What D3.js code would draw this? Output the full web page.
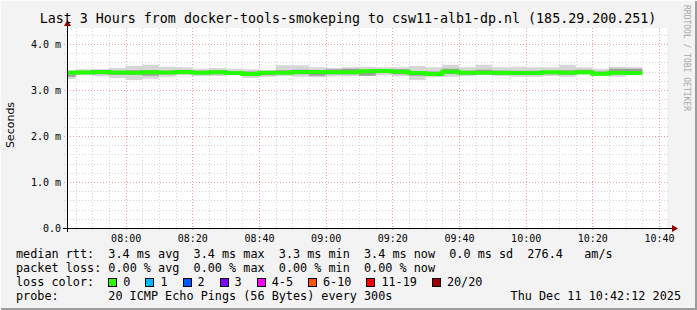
<!DOCTYPE html>
<html>
<head>
<meta charset="utf-8">
<script src="https://cdn.jsdelivr.net/npm/d3@7"></script>
<style>
  body { margin: 0; background: #f3f3f3; }
  svg text { white-space: pre; }
</style>
</head>
<body>
<div id="chart"></div>
<script>
// smokeping latency graph, 3 hours, 5 minute steps

const width = 697;
const height = 310;

// step start times (UTC) of every 5 minute sample, first one is partly off the canvas
const stepStart = '2025-12-11T07:40:00Z';
const stepCount = 35;

// median rtt per step (ms)
const medianMs = [3.374, 3.380, 3.391, 3.380, 3.376, 3.385, 3.380, 3.391, 3.376, 3.385,
  3.370, 3.348, 3.376, 3.376, 3.391, 3.391, 3.385, 3.385, 3.407, 3.413,
  3.398, 3.370, 3.348, 3.398, 3.376, 3.376, 3.376, 3.370, 3.370, 3.385,
  3.376, 3.385, 3.354, 3.376, 3.370];

// slowest and fastest ping per step (ms)
const maxPingMs = [3.435, 3.450, 3.457, 3.478, 3.522, 3.550, 3.507, 3.493, 3.463, 3.478,
  3.463, 3.450, 3.435, 3.537, 3.537, 3.493, 3.478, 3.493, 3.507, 3.493,
  3.493, 3.522, 3.493, 3.550, 3.493, 3.550, 3.493, 3.507, 3.493, 3.493,
  3.550, 3.493, 3.463, 3.507, 3.493];
const minPingMs = [3.239, 3.320, 3.304, 3.261, 3.217, 3.246, 3.289, 3.320, 3.304, 3.304,
  3.320, 3.261, 3.289, 3.304, 3.289, 3.276, 3.304, 3.304, 3.304, 3.320,
  3.304, 3.217, 3.276, 3.289, 3.304, 3.320, 3.304, 3.289, 3.289, 3.304,
  3.289, 3.333, 3.304, 3.289, 3.320];

// inner smoke (middle pings) per step (ms)
const upperPingMs = [3.41, 3.42, 3.43, 3.42, 3.43, 3.43, 3.42, 3.43, 3.42, 3.43,
  3.41, 3.40, 3.41, 3.43, 3.44, 3.43, 3.45, 3.46, 3.44, 3.45,
  3.45, 3.41, 3.40, 3.46, 3.42, 3.44, 3.42, 3.42, 3.42, 3.42,
  3.43, 3.44, 3.40, 3.46, 3.46];
const lowerPingMs = [3.29, 3.35, 3.34, 3.33, 3.33, 3.31, 3.34, 3.35, 3.34, 3.34,
  3.34, 3.31, 3.32, 3.34, 3.34, 3.31, 3.34, 3.34, 3.31, 3.37,
  3.34, 3.31, 3.31, 3.35, 3.33, 3.34, 3.33, 3.33, 3.33, 3.34,
  3.33, 3.35, 3.32, 3.34, 3.34];

// y axis labels
const yTickValues = [0, 1, 2, 3, 4];
const yTickLabels = ['0.0', '1.0 m', '2.0 m', '3.0 m', '4.0 m'];

// legend
const titleText = 'Last 3 Hours from docker-tools-smokeping to csw11-alb1-dp.nl (185.29.200.251)';
const legendLines = [
  'median rtt:  3.4 ms avg  3.4 ms max  3.3 ms min  3.4 ms now  0.0 ms sd  276.4   am/s',
  'packet loss: 0.00 % avg  0.00 % max  0.00 % min  0.00 % now'
];
const lossLabels = ['0', '1', '2', '3', '4-5', '6-10', '11-19', '20/20'];
const lossColors = ['#26ff00', '#00b8ff', '#0059ff', '#7e00ff', '#ff00ff', '#ff5500', '#ff0000', '#a10000'];
const probeText = '20 ICMP Echo Pings (56 Bytes) every 300s';
const stampText = 'Thu Dec 11 10:42:12 2025';

const mono = '"DejaVu Sans Mono", monospace';

// plot area
const plotLeft = 67, plotRight = 667, plotTop = 28, plotBottom = 228;

const svg = d3.select('#chart')
  .append('svg')
  .attr('width', width)
  .attr('height', height);

// background and 3d frame
svg.append('rect').attr('width', width).attr('height', height).attr('fill', '#f3f3f3');
svg.append('rect').attr('x', 0).attr('y', height - 2).attr('width', width).attr('height', 2).attr('fill', '#9c9c9c');
svg.append('rect').attr('x', width - 2).attr('y', 0).attr('width', 2).attr('height', height).attr('fill', '#9c9c9c');
svg.append('rect').attr('x', 0).attr('y', 0).attr('width', width).attr('height', 1).attr('fill', '#fcfcfc');
svg.append('rect').attr('x', 0).attr('y', 0).attr('width', 1).attr('height', height).attr('fill', '#fcfcfc');

svg.append('rect')
  .attr('x', plotLeft).attr('y', plotTop)
  .attr('width', plotRight - plotLeft).attr('height', plotBottom - plotTop)
  .attr('fill', '#fff');

// scales
const t0 = new Date('2025-12-11T07:42:24Z');
const t1 = new Date('2025-12-11T10:42:24Z');
const x = d3.scaleUtc().domain([t0, t1]).range([plotLeft, plotRight]);
const y = d3.scaleLinear().domain([0, 4.348]).range([plotBottom, plotTop]);

// build step records (one extra at the end to close the last step)
const first = new Date(stepStart);
const steps = d3.range(stepCount + 1).map(i => {
  const k = Math.min(i, stepCount - 1);
  return {
    time: d3.utcMinute.offset(first, i * 5),
    median: medianMs[k],
    max: maxPingMs[k],
    min: minPingMs[k],
    upper: upperPingMs[k],
    lower: lowerPingMs[k]
  };
});

// grid
const grid = svg.append('g');
const minorY = y.ticks(20).filter(v => !yTickValues.includes(Math.round(v * 10) / 10));
const minorX = x.ticks(d3.utcMinute.every(5)).filter(d => d.getUTCMinutes() % 20 !== 0);
const majorX = x.ticks(d3.utcMinute.every(20));

grid.selectAll('.minor-y')
  .data(minorY)
  .enter().append('line')
  .attr('x1', plotLeft - 3).attr('x2', plotRight + 2)
  .attr('y1', d => Math.round(y(d)) + 0.5).attr('y2', d => Math.round(y(d)) + 0.5)
  .attr('stroke', '#d4d4d4')
  .attr('stroke-dasharray', '1,2');

grid.selectAll('.minor-x')
  .data(minorX)
  .enter().append('line')
  .attr('x1', d => Math.round(x(d)) + 0.5).attr('x2', d => Math.round(x(d)) + 0.5)
  .attr('y1', plotTop).attr('y2', plotBottom + 2)
  .attr('stroke', '#d4d4d4')
  .attr('stroke-dasharray', '1,2');

grid.selectAll('.major-y')
  .data(yTickValues.slice(1))
  .enter().append('line')
  .attr('x1', plotLeft - 3).attr('x2', plotRight + 2)
  .attr('y1', d => Math.round(y(d)) + 0.5).attr('y2', d => Math.round(y(d)) + 0.5)
  .attr('stroke', '#f0a0a0')
  .attr('stroke-dasharray', '1,2');

grid.selectAll('.major-x')
  .data(majorX)
  .enter().append('line')
  .attr('x1', d => Math.round(x(d)) + 0.5).attr('x2', d => Math.round(x(d)) + 0.5)
  .attr('y1', plotTop).attr('y2', plotBottom + 3)
  .attr('stroke', '#f0a0a0')
  .attr('stroke-dasharray', '1,2');

// smoke and median
svg.append('clipPath').attr('id', 'plot-clip')
  .append('rect')
  .attr('x', plotLeft).attr('y', plotTop)
  .attr('width', plotRight - plotLeft).attr('height', plotBottom - plotTop);

const marks = svg.append('g').attr('clip-path', 'url(#plot-clip)');

const outerSmoke = d3.area()
  .curve(d3.curveStepAfter)
  .x(d => x(d.time))
  .y0(d => y(d.min))
  .y1(d => y(d.max));

const innerSmoke = d3.area()
  .curve(d3.curveStepAfter)
  .x(d => x(d.time))
  .y0(d => y(d.lower))
  .y1(d => y(d.upper));

const medianLine = d3.line()
  .curve(d3.curveStepAfter)
  .x(d => x(d.time))
  .y(d => y(d.median));

marks.append('path').attr('d', outerSmoke(steps)).attr('fill', '#d6d6d6');
marks.append('path').attr('d', innerSmoke(steps)).attr('fill', '#9e9e9e');
marks.append('path')
  .attr('d', medianLine(steps))
  .attr('fill', 'none')
  .attr('stroke', lossColors[0])
  .attr('stroke-width', 4);

// axes
const axisColor = '#000';
const arrowColor = '#900000';
svg.append('line')
  .attr('x1', plotLeft - 4).attr('x2', plotRight + 6)
  .attr('y1', plotBottom + 0.5).attr('y2', plotBottom + 0.5)
  .attr('stroke', axisColor);
svg.append('line')
  .attr('x1', plotLeft + 0.5).attr('x2', plotLeft + 0.5)
  .attr('y1', plotBottom + 4).attr('y2', plotTop - 3)
  .attr('stroke', axisColor);
svg.append('path')
  .attr('d', `M${plotRight + 5},${plotBottom - 3} L${plotRight + 11},${plotBottom + 0.5} L${plotRight + 5},${plotBottom + 4} Z`)
  .attr('fill', arrowColor);
svg.append('path')
  .attr('d', `M${plotLeft - 3},${plotTop - 2} L${plotLeft + 0.5},${plotTop - 8} L${plotLeft + 4},${plotTop - 2} Z`)
  .attr('fill', arrowColor);

// y labels
svg.selectAll('.ylabel')
  .data(yTickValues)
  .enter().append('text')
  .attr('x', 61)
  .attr('y', d => y(d) + 3.5)
  .attr('text-anchor', 'end')
  .style('font-family', mono)
  .style('font-size', '10px')
  .attr('fill', '#000')
  .text((d, i) => yTickLabels[i]);

// x labels
svg.selectAll('.xlabel')
  .data(majorX)
  .enter().append('text')
  .attr('x', d => x(d) + 0.5)
  .attr('y', 242)
  .attr('text-anchor', 'middle')
  .style('font-family', mono)
  .style('font-size', '10px')
  .attr('fill', '#000')
  .text(d3.utcFormat('%H:%M'));

// vertical unit label
svg.append('text')
  .attr('transform', 'translate(14,125) rotate(-90)')
  .attr('text-anchor', 'middle')
  .style('font-family', '"DejaVu Sans", sans-serif')
  .style('font-size', '11px')
  .attr('fill', '#000')
  .text('Seconds');

// title
svg.append('text')
  .attr('x', 348)
  .attr('y', 23)
  .attr('text-anchor', 'middle')
  .style('font-family', mono)
  .style('font-size', '13.3px')
  .attr('fill', '#000')
  .text(titleText);

// watermark
svg.append('text')
  .attr('transform', 'translate(684,5) rotate(90)')
  .style('font-family', mono)
  .style('font-size', '8px')
  .attr('fill', '#a8a8a8')
  .text('RRDTOOL / TOBI OETIKER');

// legend
const charW = 7.1;
const legend = svg.append('g')
  .style('font-family', mono)
  .style('font-size', '11.8px')
  .attr('fill', '#000');

legend.selectAll('.line')
  .data(legendLines)
  .enter().append('text')
  .attr('x', 16)
  .attr('y', (d, i) => 258 + i * 14)
  .attr('xml:space', 'preserve')
  .text(d => d);

legend.append('text').attr('x', 16).attr('y', 286).text('loss color:');

let bx = 16 + 13 * charW;
lossLabels.forEach((label, i) => {
  legend.append('rect')
    .attr('x', Math.round(bx) + 0.5).attr('y', 278.5)
    .attr('width', 8).attr('height', 8)
    .attr('fill', lossColors[i])
    .attr('stroke', '#000');
  legend.append('text').attr('x', bx + 15).attr('y', 286).text(label);
  bx += 15 + label.length * charW + 15;
});

legend.append('text').attr('x', 16).attr('y', 300).text('probe:');
legend.append('text').attr('x', 16 + 13 * charW).attr('y', 300).text(probeText);
legend.append('text').attr('x', 681).attr('y', 300).attr('text-anchor', 'end').text(stampText);
</script>
</body>
</html>
